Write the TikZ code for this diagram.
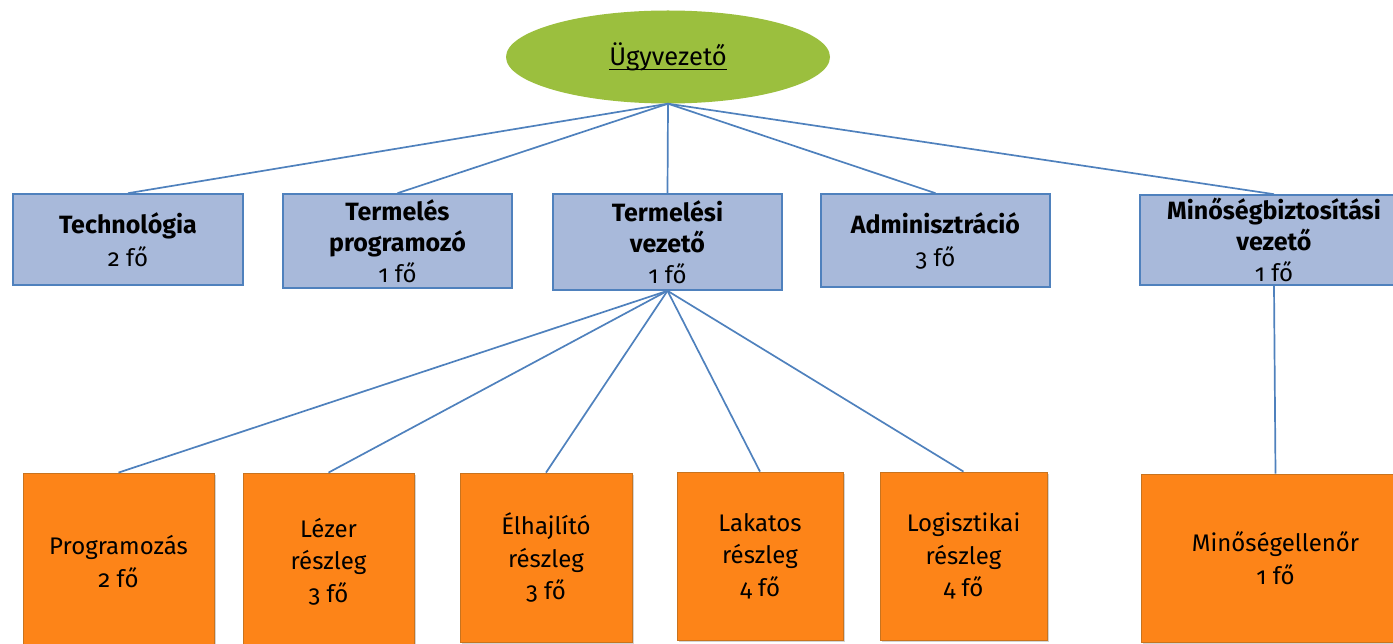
\documentclass[tikz,border=0pt]{standalone}
\usepackage{fontspec}
\setmainfont[Numbers=OldStyle]{Fira Sans}
\usetikzlibrary{shapes.geometric,shadows}
\definecolor{boxblue}{HTML}{A8B9DA}
\definecolor{lineblue}{HTML}{4F81BD}
\definecolor{boxorange}{HTML}{FD8418}
\definecolor{edgeorange}{HTML}{C8731E}
\definecolor{ceogreen}{HTML}{9BBF3E}
\tikzset{
  topbox/.style={draw=lineblue, line width=1.6pt, fill=boxblue, rectangle, inner sep=0pt,
    align=center, font=\fontsize{24}{31}\selectfont},
  botbox/.style={draw=edgeorange, line width=0.8pt, fill=boxorange, rectangle, inner sep=0pt,
    align=center, font=\fontsize{24}{32.5}\selectfont,
    drop shadow={opacity=0.35, shadow xshift=1.5pt, shadow yshift=-1.5pt}},
  conn/.style={draw=lineblue, line width=1.7pt},
  boldline/.style={font=\fontsize{25}{31}\selectfont\bfseries},
}
\begin{document}
\begin{tikzpicture}[x=1pt,y=-1pt]
\useasboundingbox (0,0) rectangle (1393,644);
% top
\node[ellipse, fill=ceogreen, minimum width=324pt, minimum height=93pt, inner sep=0pt] (ceo) at (668,57) {};
\node[inner sep=0pt, font=\fontsize{25.5}{28}\selectfont] (ceot) at (668,57) {Ügyvezető};
\draw[line width=1.1pt] ([yshift=-3.5pt]ceot.base west) -- ([yshift=-3.5pt]ceot.base east);
% second level
\node[topbox, minimum width=230pt, minimum height=91pt] (tech) at (128,239.5) {{\fontsize{25}{31}\selectfont\bfseries Technológia}\\[2pt]2 fő};
\node[topbox, minimum width=229pt, minimum height=94pt] (prog) at (397.5,241) {{\fontsize{25}{31}\selectfont\bfseries Termelés}\\{\fontsize{25}{31}\selectfont\bfseries programozó}\\1 fő};
\node[topbox, minimum width=229pt, minimum height=96pt] (tv) at (667.5,242) {{\fontsize{25}{31}\selectfont\bfseries Termelési}\\{\fontsize{25}{31}\selectfont\bfseries vezető}\\1 fő};
\node[topbox, minimum width=229pt, minimum height=93pt] (adm) at (935.5,240.5) {{\fontsize{25}{31}\selectfont\bfseries Adminisztráció}\\[2pt]3 fő};
\node[topbox, minimum width=268pt, minimum height=90pt] (mb) at (1274,240) {{\fontsize{25}{31}\selectfont\bfseries Minőségbiztosítási}\\{\fontsize{25}{31}\selectfont\bfseries vezető}\\1 fő};
% third level
\node[botbox, minimum width=191pt, minimum height=177pt] (p) at (118.5,561.5) {Programozás\\2 fő};
\node[botbox, minimum width=171pt, minimum height=177pt] (l) at (328.5,561.5) {Lézer\\részleg\\3 fő};
\node[botbox, minimum width=172pt, minimum height=169pt] (e) at (546,557.5) {Élhajlító\\részleg\\3 fő};
\node[botbox, minimum width=166pt, minimum height=168pt] (lk) at (760,556) {Lakatos\\részleg\\4 fő};
\node[botbox, minimum width=167pt, minimum height=168pt] (lg) at (963.5,556) {Logisztikai\\részleg\\4 fő};
\node[botbox, minimum width=269pt, minimum height=168pt] (mq) at (1275.5,558) {Minőségellenőr\\1 fő};
% connectors
\foreach \t in {tech,prog,tv,adm,mb} \draw[conn] (ceo.south) -- (\t.north);
\foreach \t in {p,l,e,lk,lg} \draw[conn] (tv.south) -- (\t.north);
\draw[conn] (mb.south) -- (mq.north);
\end{tikzpicture}
\end{document}
